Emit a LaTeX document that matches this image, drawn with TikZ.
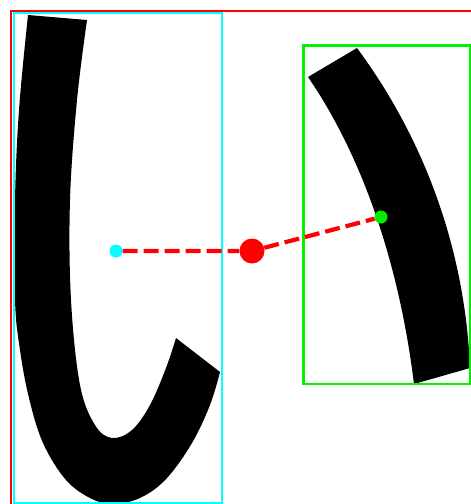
\documentclass[tikz,border=0pt]{standalone}
\usetikzlibrary{positioning}
\definecolor{boxred}{RGB}{255,0,0}
\definecolor{boxcyan}{RGB}{0,255,255}
\definecolor{boxgreen}{RGB}{0,240,0}

\begin{document}
\begin{tikzpicture}[x=1pt, y=-1pt,
    ctrdot/.style={circle, inner sep=0pt, minimum size=#1},
    joinline/.style={boxred, line width=4.2pt, dash pattern=on 15pt off 6pt}]
  \useasboundingbox (0,0) rectangle (471,504);
  \clip (0,0) rectangle (471,504);

  % outer box
  \draw[boxred, line width=2pt] (11,11) rectangle (490,520);

  % first stroke
  \fill[black] (28,15) -- (87,20)
    -- plot[smooth, tension=0.6] coordinates {(87,20) (77,100) (70,200) (71,300) (80,385)
       (95,425) (112,438) (132,430) (150,405) (166,368) (176,338)}
    -- (220,372)
    -- plot[smooth, tension=0.6] coordinates {(220,372) (210,405) (192,443) (167,478)
       (142,497) (115,504) (92,499) (66,480) (43,443) (29,398) (20,350) (15,300)
       (15,200) (19,110) (28,15)}
    -- cycle;

  % second stroke
  \fill[black] (308,77) -- (357,48)
    .. controls (425,140) and (465,250) .. (470,368)
    -- (414,384)
    .. controls (400,270) and (365,160) .. (308,77)
    -- cycle;

  % stroke boxes
  \draw[boxcyan, line width=2pt] (14,13) rectangle (222,503);
  \draw[boxgreen, line width=2.5pt] (303.5,45.5) rectangle (470,384);

  % centres
  \node[ctrdot=13pt, fill=boxcyan] (cL) at (116,251) {};
  \node[ctrdot=25pt, fill=boxred] (mid) at (252,251) {};
  \node[ctrdot=13pt, fill=boxgreen] (cR) at (381,217) {};
  \draw[joinline] (cL) -- (mid) -- (cR);
\end{tikzpicture}
\end{document}
